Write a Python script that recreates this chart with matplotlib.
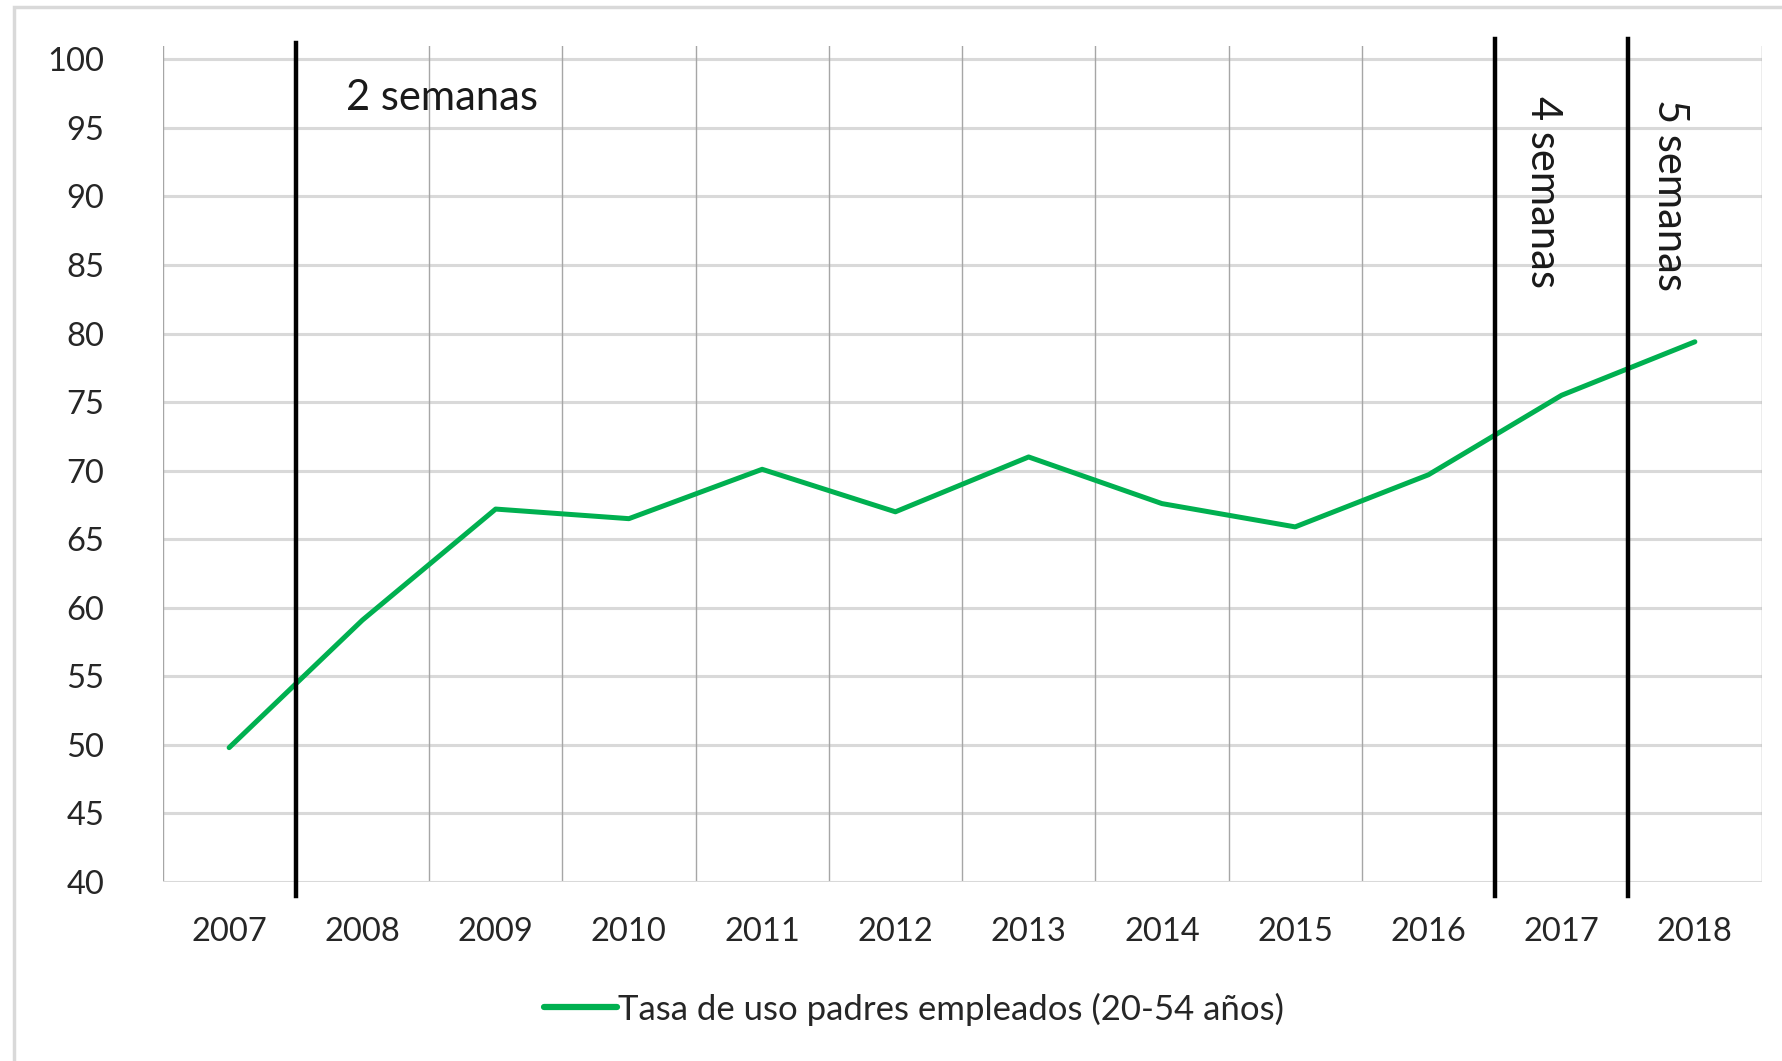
import numpy as np
import matplotlib.pyplot as plt
from matplotlib.patches import Rectangle

plt.rcParams['font.family'] = ['Lato', 'DejaVu Sans']

# data
years = ['2007', '2008', '2009', '2010', '2011', '2012',
         '2013', '2014', '2015', '2016', '2017', '2018']
tasa = [49.8, 59.1, 67.2, 66.5, 70.1, 67.0, 71.0, 67.6, 65.9, 69.7, 75.5, 79.4]
serie_label = 'Tasa de uso padres empleados (20-54 años)'

# reform markers (between categories) and their labels
reform_pos = [0.5, 9.5, 10.5]
reform_txt = ['2 semanas', '4 semanas', '5 semanas']

x = np.arange(len(years))

fig = plt.figure(figsize=(17.82, 10.61), dpi=100)
ax = fig.add_axes([0.0912, 0.1687, 0.8973, 0.7883])

# gridlines: light horizontal, thin darker vertical between categories
for v in range(45, 101, 5):
    ax.axhline(v, color='#D9D9D9', lw=2.2, zorder=1)
for b in np.arange(-0.5, len(years), 1.0):
    ax.axvline(b, color='#A6A6A6', lw=1.0, zorder=1)
ax.axhline(40, color='#D9D9D9', lw=2.2, zorder=2)

ax.plot(x, tasa, color='#00B050', lw=3.6, solid_capstyle='round',
        label=serie_label, zorder=4)

# black vertical lines for the reforms (they stick out of the plot area)
ax.plot([reform_pos[0]] * 2, [39.0, 101.2], color='black', lw=3.2,
        clip_on=False, zorder=5)
ax.plot([reform_pos[1]] * 2, [39.0, 101.5], color='black', lw=3.2,
        clip_on=False, zorder=5)
ax.plot([reform_pos[2]] * 2, [39.0, 101.5], color='black', lw=3.2,
        clip_on=False, zorder=5)

ax.text(0.88, 97.2, reform_txt[0], fontsize=30, va='center', ha='left',
        color='#1a1a1a')
ax.text(9.86, 90.3, reform_txt[1], fontsize=30, va='center', ha='center',
        rotation=-90, color='#1a1a1a')
ax.text(10.81, 90.1, reform_txt[2], fontsize=30, va='center', ha='center',
        rotation=-90, color='#1a1a1a')

ax.set_xlim(-0.5, len(years) - 0.5)
ax.set_ylim(40, 101)
ax.set_yticks(range(40, 101, 5))
ax.set_xticks(x)
ax.set_xticklabels(years)
ax.tick_params(axis='both', length=0, labelsize=23.5, colors='#262626')
ax.tick_params(axis='y', pad=42)
ax.tick_params(axis='x', pad=25)
for s in ax.spines.values():
    s.set_visible(False)

leg = fig.legend(loc='center', bbox_to_anchor=(0.513, 0.049), frameon=False,
                 fontsize=25, handlelength=2.1, handletextpad=0.05)
for t in leg.get_texts():
    t.set_color('#262626')
leg.get_lines()[0].set_linewidth(4.5)

# light outer frame of the chart area
fig.patches.append(Rectangle((0.008, -0.01), 1.0, 1.003, transform=fig.transFigure,
                             fill=False, edgecolor='#D9D9D9', lw=2.5))

fig.savefig('out.png', dpi=100)
